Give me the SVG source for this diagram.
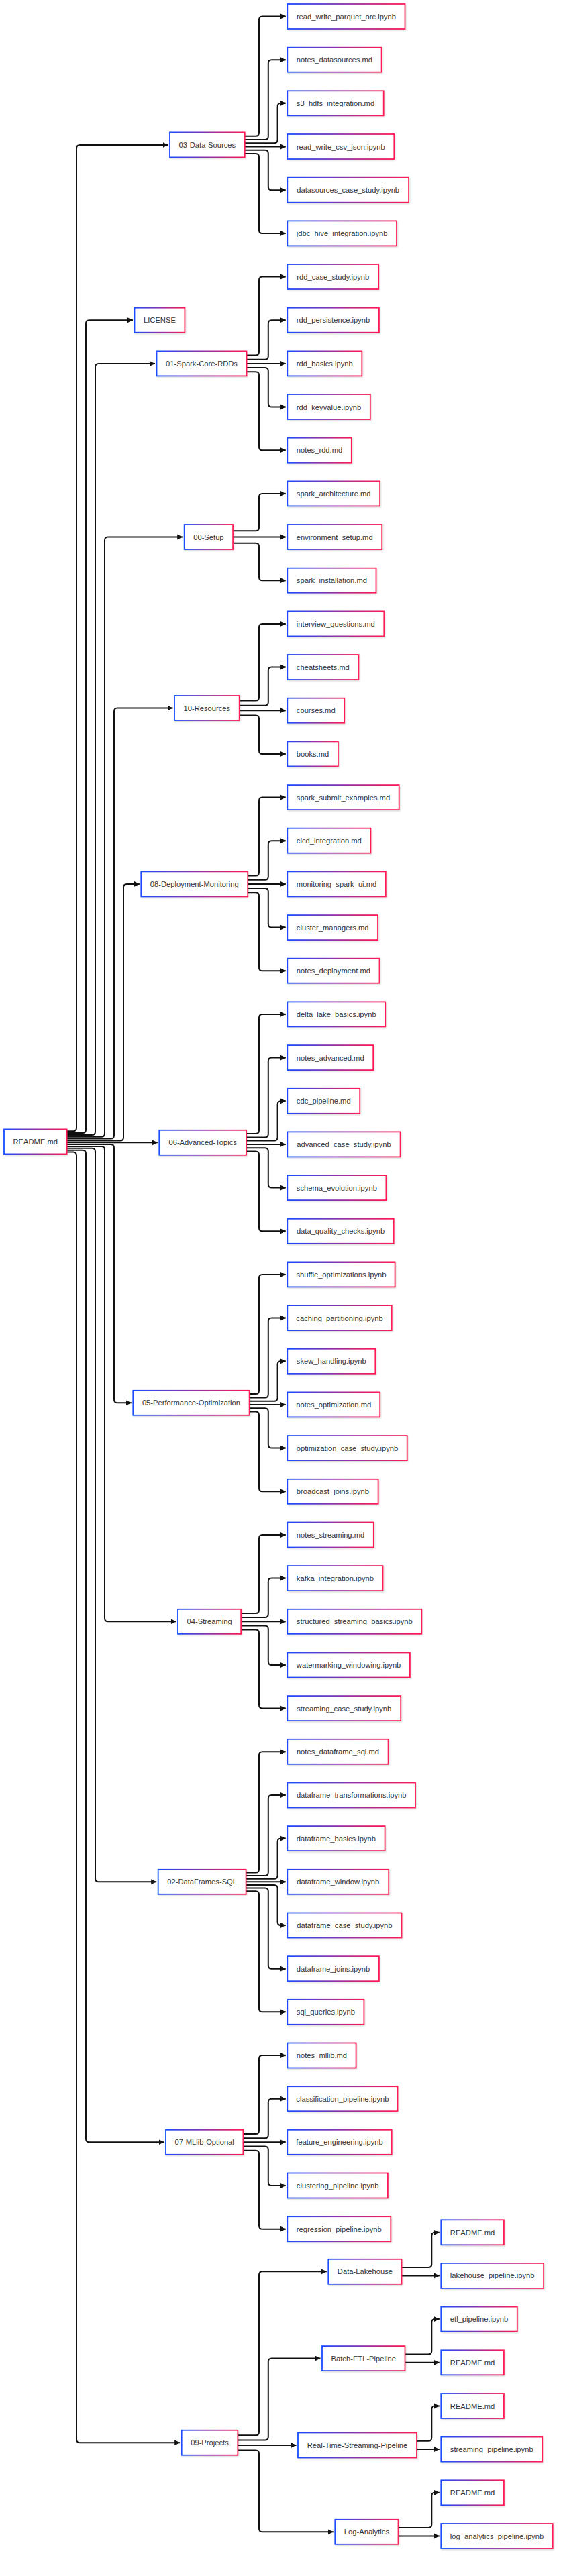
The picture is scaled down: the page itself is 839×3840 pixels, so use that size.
<svg xmlns="http://www.w3.org/2000/svg" width="839" height="3840" viewBox="0 0 839 3840">
<defs>
<linearGradient id="bg" x1="0" y1="0" x2="1" y2="0">
<stop offset="0" stop-color="#1a4cff"/>
<stop offset="1" stop-color="#ff1a55"/>
</linearGradient>
<filter id="sh" x="-10%" y="-20%" width="120%" height="150%">
<feDropShadow dx="1" dy="1.5" stdDeviation="1" flood-color="#000" flood-opacity="0.15"/>
</filter>
<marker id="ah" markerUnits="userSpaceOnUse" markerWidth="10" markerHeight="10" refX="8" refY="5" orient="auto">
<path d="M0,1 L8,5 L0,9 z" fill="#111"/>
</marker>
<style>
.nodes rect{fill:#fff;stroke:url(#bg);stroke-width:1.8;filter:url(#sh)}
.nodes text{font-family:"Liberation Sans",Arial,sans-serif;font-size:11.2px;fill:#333;text-anchor:middle;dominant-baseline:central}
.edges path{fill:none;stroke:#111;stroke-width:2;marker-end:url(#ah)}
</style>
</defs>
<rect width="839" height="3840" fill="#fff"/>
<g id="connectors" class="edges">
<path d="M99.6 1686.2 H109 Q114 1686.2 114 1681.2 V220.9 Q114 215.9 119 215.9 H250.5"/>
<path d="M99.6 1689.1 H123 Q128 1689.1 128 1684.1 V482.2 Q128 477.2 133 477.2 H198"/>
<path d="M99.6 1691.9 H137 Q142 1691.9 142 1686.9 V546.9 Q142 541.9 147 541.9 H231"/>
<path d="M99.6 1694.7 H151 Q156 1694.7 156 1689.7 V805.5 Q156 800.5 161 800.5 H272.2"/>
<path d="M99.6 1697.6 H165 Q170 1697.6 170 1692.6 V1060.5 Q170 1055.5 175 1055.5 H257.5"/>
<path d="M99.6 1700.4 H179 Q184 1700.4 184 1695.4 V1322.9 Q184 1317.9 189 1317.9 H207.8"/>
<path d="M99.6 1703.3 H234.8"/>
<path d="M99.6 1706.1 H165 Q170 1706.1 170 1711.1 V2086.3 Q170 2091.3 175 2091.3 H195.8"/>
<path d="M99.6 1709 H151 Q156 1709 156 1714 V2412.3 Q156 2417.3 161 2417.3 H262.5"/>
<path d="M99.6 1711.8 H137 Q142 1711.8 142 1716.8 V2800.3 Q142 2805.3 147 2805.3 H233.2"/>
<path d="M99.6 1714.7 H123 Q128 1714.7 128 1719.7 V3188.3 Q128 3193.3 133 3193.3 H244.5"/>
<path d="M99.6 1717.5 H109 Q114 1717.5 114 1722.5 V3636.3 Q114 3641.3 119 3641.3 H268.2"/>
<path d="M364.7 202.7 H381 Q386 202.7 386 197.7 V29.5 Q386 24.5 391 24.5 H425.8"/>
<path d="M364.7 207.9 H394.8 Q399.8 207.9 399.8 202.9 V94.2 Q399.8 89.2 404.8 89.2 H425.8"/>
<path d="M364.7 213.2 H408.6 Q413.6 213.2 413.6 208.2 V158.8 Q413.6 153.8 418.6 153.8 H425.8"/>
<path d="M364.7 218.5 H425.8"/>
<path d="M364.7 223.8 H394.8 Q399.8 223.8 399.8 228.8 V278.2 Q399.8 283.2 404.8 283.2 H425.8"/>
<path d="M364.7 229.1 H381 Q386 229.1 386 234.1 V342.9 Q386 347.9 391 347.9 H425.8"/>
<path d="M367.5 529.5 H381 Q386 529.5 386 524.5 V417.5 Q386 412.5 391 412.5 H425.8"/>
<path d="M367.5 535.7 H394.8 Q399.8 535.7 399.8 530.7 V482.2 Q399.8 477.2 404.8 477.2 H425.8"/>
<path d="M367.5 541.9 H425.8"/>
<path d="M367.5 548 H394.8 Q399.8 548 399.8 553 V601.5 Q399.8 606.5 404.8 606.5 H425.8"/>
<path d="M367.5 554.2 H381 Q386 554.2 386 559.2 V666.2 Q386 671.2 391 671.2 H425.8"/>
<path d="M347.1 791.3 H381 Q386 791.3 386 786.3 V740.9 Q386 735.9 391 735.9 H425.8"/>
<path d="M347.1 800.5 H425.8"/>
<path d="M347.1 809.8 H381 Q386 809.8 386 814.8 V860.2 Q386 865.2 391 865.2 H425.8"/>
<path d="M356.7 1044.4 H381 Q386 1044.4 386 1039.4 V934.9 Q386 929.9 391 929.9 H425.8"/>
<path d="M356.7 1051.8 H394.8 Q399.8 1051.8 399.8 1046.8 V999.6 Q399.8 994.6 404.8 994.6 H425.8"/>
<path d="M356.7 1059.2 H425.8"/>
<path d="M356.7 1066.6 H381 Q386 1066.6 386 1071.6 V1118.9 Q386 1123.9 391 1123.9 H425.8"/>
<path d="M369.2 1305.6 H381 Q386 1305.6 386 1300.6 V1193.6 Q386 1188.6 391 1188.6 H425.8"/>
<path d="M369.2 1311.7 H394.8 Q399.8 1311.7 399.8 1306.7 V1258.2 Q399.8 1253.2 404.8 1253.2 H425.8"/>
<path d="M369.2 1317.9 H425.8"/>
<path d="M369.2 1324.1 H394.8 Q399.8 1324.1 399.8 1329.1 V1377.6 Q399.8 1382.6 404.8 1382.6 H425.8"/>
<path d="M369.2 1330.2 H381 Q386 1330.2 386 1335.2 V1442.2 Q386 1447.2 391 1447.2 H425.8"/>
<path d="M367 1690.1 H381 Q386 1690.1 386 1685.1 V1516.9 Q386 1511.9 391 1511.9 H425.8"/>
<path d="M367 1695.4 H394.8 Q399.8 1695.4 399.8 1690.4 V1581.6 Q399.8 1576.6 404.8 1576.6 H425.8"/>
<path d="M367 1700.6 H408.6 Q413.6 1700.6 413.6 1695.6 V1646.3 Q413.6 1641.3 418.6 1641.3 H425.8"/>
<path d="M367 1705.9 H425.8"/>
<path d="M367 1711.2 H394.8 Q399.8 1711.2 399.8 1716.2 V1765.6 Q399.8 1770.6 404.8 1770.6 H425.8"/>
<path d="M367 1716.5 H381 Q386 1716.5 386 1721.5 V1830.3 Q386 1835.3 391 1835.3 H425.8"/>
<path d="M371.6 2078.1 H381 Q386 2078.1 386 2073.1 V1904.9 Q386 1899.9 391 1899.9 H425.8"/>
<path d="M371.6 2083.4 H394.8 Q399.8 2083.4 399.8 2078.4 V1969.6 Q399.8 1964.6 404.8 1964.6 H425.8"/>
<path d="M371.6 2088.7 H408.6 Q413.6 2088.7 413.6 2083.7 V2034.3 Q413.6 2029.3 418.6 2029.3 H425.8"/>
<path d="M371.6 2093.9 H425.8"/>
<path d="M371.6 2099.2 H394.8 Q399.8 2099.2 399.8 2104.2 V2153.6 Q399.8 2158.6 404.8 2158.6 H425.8"/>
<path d="M371.6 2104.5 H381 Q386 2104.5 386 2109.5 V2218.3 Q386 2223.3 391 2223.3 H425.8"/>
<path d="M359.2 2405 H381 Q386 2405 386 2400 V2293 Q386 2288 391 2288 H425.8"/>
<path d="M359.2 2411.1 H394.8 Q399.8 2411.1 399.8 2406.1 V2357.6 Q399.8 2352.6 404.8 2352.6 H425.8"/>
<path d="M359.2 2417.3 H425.8"/>
<path d="M359.2 2423.5 H394.8 Q399.8 2423.5 399.8 2428.5 V2477 Q399.8 2482 404.8 2482 H425.8"/>
<path d="M359.2 2429.6 H381 Q386 2429.6 386 2434.6 V2541.6 Q386 2546.6 391 2546.6 H425.8"/>
<path d="M366.6 2791.4 H381 Q386 2791.4 386 2786.4 V2616.3 Q386 2611.3 391 2611.3 H425.8"/>
<path d="M366.6 2796.1 H394.8 Q399.8 2796.1 399.8 2791.1 V2681 Q399.8 2676 404.8 2676 H425.8"/>
<path d="M366.6 2800.7 H408.6 Q413.6 2800.7 413.6 2795.7 V2745.6 Q413.6 2740.6 418.6 2740.6 H425.8"/>
<path d="M366.6 2805.3 H425.8"/>
<path d="M366.6 2809.9 H408.6 Q413.6 2809.9 413.6 2814.9 V2865 Q413.6 2870 418.6 2870 H425.8"/>
<path d="M366.6 2814.6 H394.8 Q399.8 2814.6 399.8 2819.6 V2929.7 Q399.8 2934.7 404.8 2934.7 H425.8"/>
<path d="M366.6 2819.2 H381 Q386 2819.2 386 2824.2 V2994.3 Q386 2999.3 391 2999.3 H425.8"/>
<path d="M362.4 3181 H381 Q386 3181 386 3176 V3069 Q386 3064 391 3064 H425.8"/>
<path d="M362.4 3187.2 H394.8 Q399.8 3187.2 399.8 3182.2 V3133.7 Q399.8 3128.7 404.8 3128.7 H425.8"/>
<path d="M362.4 3193.3 H425.8"/>
<path d="M362.4 3199.5 H394.8 Q399.8 3199.5 399.8 3204.5 V3253 Q399.8 3258 404.8 3258 H425.8"/>
<path d="M362.4 3205.7 H381 Q386 3205.7 386 3210.7 V3317.7 Q386 3322.7 391 3322.7 H425.8"/>
<path d="M354.3 3630.2 H381 Q386 3630.2 386 3625.2 V3391.3 Q386 3386.3 391 3386.3 H486.8"/>
<path d="M354.3 3637.6 H394.8 Q399.8 3637.6 399.8 3632.6 V3520.6 Q399.8 3515.6 404.8 3515.6 H477.5"/>
<path d="M354.3 3645 H441.5"/>
<path d="M354.3 3652.4 H381 Q386 3652.4 386 3657.4 V3769.3 Q386 3774.3 391 3774.3 H496.8"/>
<path d="M598.5 3380.1 H638.3 Q643.3 3380.1 643.3 3375.1 V3332.8 Q643.3 3327.8 648.3 3327.8 H654.8"/>
<path d="M598.5 3392.4 H654.8"/>
<path d="M603.5 3509.4 H638.3 Q643.3 3509.4 643.3 3504.4 V3462.1 Q643.3 3457.1 648.3 3457.1 H654.8"/>
<path d="M603.5 3521.8 H654.8"/>
<path d="M621 3638.8 H638.3 Q643.3 3638.8 643.3 3633.8 V3591.5 Q643.3 3586.5 648.3 3586.5 H654.8"/>
<path d="M621 3651.1 H654.8"/>
<path d="M593.5 3768.1 H638.3 Q643.3 3768.1 643.3 3763.1 V3720.8 Q643.3 3715.8 648.3 3715.8 H654.8"/>
<path d="M593.5 3780.5 H654.8"/>
</g>
<g class="nodes">
<g id="readme"><rect x="6" y="1683.4" width="93.6" height="37"/><text x="52.8" y="1701.9">README.md</text></g>
<g id="d03"><rect x="253" y="197.4" width="111.7" height="37"/><text x="308.85" y="215.9">03-Data-Sources</text></g>
<g id="license"><rect x="200.5" y="458.7" width="74.9" height="37"/><text x="237.95" y="477.2">LICENSE</text></g>
<g id="d01"><rect x="233.5" y="523.4" width="134" height="37"/><text x="300.5" y="541.9">01-Spark-Core-RDDs</text></g>
<g id="d00"><rect x="274.7" y="782" width="72.4" height="37"/><text x="310.9" y="800.5">00-Setup</text></g>
<g id="d10"><rect x="260" y="1037" width="96.7" height="37"/><text x="308.35" y="1055.5">10-Resources</text></g>
<g id="d08"><rect x="210.3" y="1299.4" width="158.9" height="37"/><text x="289.75" y="1317.9">08-Deployment-Monitoring</text></g>
<g id="d06"><rect x="237.3" y="1684.8" width="129.7" height="37"/><text x="302.15" y="1703.3">06-Advanced-Topics</text></g>
<g id="d05"><rect x="198.3" y="2072.8" width="173.3" height="37"/><text x="284.95" y="2091.3">05-Performance-Optimization</text></g>
<g id="d04"><rect x="265" y="2398.8" width="94.2" height="37"/><text x="312.1" y="2417.3">04-Streaming</text></g>
<g id="d02"><rect x="235.7" y="2786.8" width="130.9" height="37"/><text x="301.15" y="2805.3">02-DataFrames-SQL</text></g>
<g id="d07"><rect x="247" y="3174.8" width="115.4" height="37"/><text x="304.7" y="3193.3">07-MLlib-Optional</text></g>
<g id="d09"><rect x="270.7" y="3622.75" width="83.6" height="37"/><text x="312.5" y="3641.25">09-Projects</text></g>
<g id="f0"><rect x="428.3" y="6" width="175.2" height="37"/><text x="515.9" y="24.5">read_write_parquet_orc.ipynb</text></g>
<g id="f1"><rect x="428.3" y="70.7" width="140.3" height="37"/><text x="498.45" y="89.2">notes_datasources.md</text></g>
<g id="f2"><rect x="428.3" y="135.3" width="143.4" height="37"/><text x="500" y="153.8">s3_hdfs_integration.md</text></g>
<g id="f3"><rect x="428.3" y="200" width="159" height="37"/><text x="507.8" y="218.5">read_write_csv_json.ipynb</text></g>
<g id="f4"><rect x="428.3" y="264.7" width="180.8" height="37"/><text x="518.7" y="283.2">datasources_case_study.ipynb</text></g>
<g id="f5"><rect x="428.3" y="329.4" width="162.7" height="37"/><text x="509.65" y="347.9">jdbc_hive_integration.ipynb</text></g>
<g id="f6"><rect x="428.3" y="394" width="135.9" height="37"/><text x="496.25" y="412.5">rdd_case_study.ipynb</text></g>
<g id="f7"><rect x="428.3" y="458.7" width="136.6" height="37"/><text x="496.6" y="477.2">rdd_persistence.ipynb</text></g>
<g id="f8"><rect x="428.3" y="523.4" width="111" height="37"/><text x="483.8" y="541.9">rdd_basics.ipynb</text></g>
<g id="f9"><rect x="428.3" y="588" width="123.5" height="37"/><text x="490.05" y="606.5">rdd_keyvalue.ipynb</text></g>
<g id="f10"><rect x="428.3" y="652.7" width="95.5" height="37"/><text x="476.05" y="671.2">notes_rdd.md</text></g>
<g id="f11"><rect x="428.3" y="717.4" width="137.8" height="37"/><text x="497.2" y="735.9">spark_architecture.md</text></g>
<g id="f12"><rect x="428.3" y="782" width="140.9" height="37"/><text x="498.75" y="800.5">environment_setup.md</text></g>
<g id="f13"><rect x="428.3" y="846.7" width="132.2" height="37"/><text x="494.4" y="865.2">spark_installation.md</text></g>
<g id="f14"><rect x="428.3" y="911.4" width="144" height="37"/><text x="500.3" y="929.9">interview_questions.md</text></g>
<g id="f15"><rect x="428.3" y="976" width="106.1" height="37"/><text x="481.35" y="994.5">cheatsheets.md</text></g>
<g id="f16"><rect x="428.3" y="1040.7" width="84.9" height="37"/><text x="470.75" y="1059.2">courses.md</text></g>
<g id="f17"><rect x="428.3" y="1105.4" width="75.6" height="37"/><text x="466.1" y="1123.9">books.md</text></g>
<g id="f18"><rect x="428.3" y="1170.1" width="166.4" height="37"/><text x="511.5" y="1188.6">spark_submit_examples.md</text></g>
<g id="f19"><rect x="428.3" y="1234.7" width="124.1" height="37"/><text x="490.35" y="1253.2">cicd_integration.md</text></g>
<g id="f20"><rect x="428.3" y="1299.4" width="146.5" height="37"/><text x="501.55" y="1317.9">monitoring_spark_ui.md</text></g>
<g id="f21"><rect x="428.3" y="1364.1" width="134.7" height="37"/><text x="495.65" y="1382.6">cluster_managers.md</text></g>
<g id="f22"><rect x="428.3" y="1428.7" width="137.2" height="37"/><text x="496.9" y="1447.2">notes_deployment.md</text></g>
<g id="f23"><rect x="428.3" y="1493.4" width="145.9" height="37"/><text x="501.25" y="1511.9">delta_lake_basics.ipynb</text></g>
<g id="f24"><rect x="428.3" y="1558.1" width="127.9" height="37"/><text x="492.25" y="1576.6">notes_advanced.md</text></g>
<g id="f25"><rect x="428.3" y="1622.8" width="107.9" height="37"/><text x="482.25" y="1641.3">cdc_pipeline.md</text></g>
<g id="f26"><rect x="428.3" y="1687.4" width="168.3" height="37"/><text x="512.45" y="1705.9">advanced_case_study.ipynb</text></g>
<g id="f27"><rect x="428.3" y="1752.1" width="147.1" height="37"/><text x="501.85" y="1770.6">schema_evolution.ipynb</text></g>
<g id="f28"><rect x="428.3" y="1816.8" width="158.4" height="37"/><text x="507.5" y="1835.3">data_quality_checks.ipynb</text></g>
<g id="f29"><rect x="428.3" y="1881.4" width="160.3" height="37"/><text x="508.45" y="1899.9">shuffle_optimizations.ipynb</text></g>
<g id="f30"><rect x="428.3" y="1946.1" width="155.4" height="37"/><text x="506" y="1964.6">caching_partitioning.ipynb</text></g>
<g id="f31"><rect x="428.3" y="2010.8" width="131" height="37"/><text x="493.8" y="2029.3">skew_handling.ipynb</text></g>
<g id="f32"><rect x="428.3" y="2075.4" width="137.9" height="37"/><text x="497.25" y="2093.9">notes_optimization.md</text></g>
<g id="f33"><rect x="428.3" y="2140.1" width="178.4" height="37"/><text x="517.5" y="2158.6">optimization_case_study.ipynb</text></g>
<g id="f34"><rect x="428.3" y="2204.8" width="135.3" height="37"/><text x="495.95" y="2223.3">broadcast_joins.ipynb</text></g>
<g id="f35"><rect x="428.3" y="2269.5" width="128.5" height="37"/><text x="492.55" y="2288">notes_streaming.md</text></g>
<g id="f36"><rect x="428.3" y="2334.1" width="142.2" height="37"/><text x="499.4" y="2352.6">kafka_integration.ipynb</text></g>
<g id="f37"><rect x="428.3" y="2398.8" width="200" height="37"/><text x="528.3" y="2417.3">structured_streaming_basics.ipynb</text></g>
<g id="f38"><rect x="428.3" y="2463.5" width="182.6" height="37"/><text x="519.6" y="2482">watermarking_windowing.ipynb</text></g>
<g id="f39"><rect x="428.3" y="2528.1" width="168.9" height="37"/><text x="512.75" y="2546.6">streaming_case_study.ipynb</text></g>
<g id="f40"><rect x="428.3" y="2592.8" width="150.3" height="37"/><text x="503.45" y="2611.3">notes_dataframe_sql.md</text></g>
<g id="f41"><rect x="428.3" y="2657.5" width="190.7" height="37"/><text x="523.65" y="2676">dataframe_transformations.ipynb</text></g>
<g id="f42"><rect x="428.3" y="2722.1" width="145.3" height="37"/><text x="500.95" y="2740.6">dataframe_basics.ipynb</text></g>
<g id="f43"><rect x="428.3" y="2786.8" width="150.9" height="37"/><text x="503.75" y="2805.3">dataframe_window.ipynb</text></g>
<g id="f44"><rect x="428.3" y="2851.5" width="170.2" height="37"/><text x="513.4" y="2870">dataframe_case_study.ipynb</text></g>
<g id="f45"><rect x="428.3" y="2916.2" width="136.6" height="37"/><text x="496.6" y="2934.7">dataframe_joins.ipynb</text></g>
<g id="f46"><rect x="428.3" y="2980.8" width="114.1" height="37"/><text x="485.35" y="2999.3">sql_queries.ipynb</text></g>
<g id="f47"><rect x="428.3" y="3045.5" width="102.3" height="37"/><text x="479.45" y="3064">notes_mllib.md</text></g>
<g id="f48"><rect x="428.3" y="3110.2" width="164.2" height="37"/><text x="510.4" y="3128.7">classification_pipeline.ipynb</text></g>
<g id="f49"><rect x="428.3" y="3174.8" width="155.4" height="37"/><text x="506" y="3193.3">feature_engineering.ipynb</text></g>
<g id="f50"><rect x="428.3" y="3239.5" width="149.6" height="37"/><text x="503.1" y="3258">clustering_pipeline.ipynb</text></g>
<g id="f51"><rect x="428.3" y="3304.2" width="154" height="37"/><text x="505.3" y="3322.7">regression_pipeline.ipynb</text></g>
<g id="p-dl"><rect x="489.3" y="3367.8" width="109.2" height="37"/><text x="543.9" y="3386.3">Data-Lakehouse</text></g>
<g id="p-be"><rect x="480" y="3497.1" width="123.5" height="37"/><text x="541.75" y="3515.6">Batch-ETL-Pipeline</text></g>
<g id="p-rt"><rect x="444" y="3626.5" width="177" height="37"/><text x="532.5" y="3645">Real-Time-Streaming-Pipeline</text></g>
<g id="p-la"><rect x="499.3" y="3755.8" width="94.2" height="37"/><text x="546.4" y="3774.3">Log-Analytics</text></g>
<g id="dl-readme"><rect x="657.3" y="3309.3" width="93.6" height="37"/><text x="704.1" y="3327.8">README.md</text></g>
<g id="dl-pipe"><rect x="657.3" y="3373.9" width="152.8" height="37"/><text x="733.7" y="3392.4">lakehouse_pipeline.ipynb</text></g>
<g id="be-pipe"><rect x="657.3" y="3438.6" width="113.5" height="37"/><text x="714.05" y="3457.1">etl_pipeline.ipynb</text></g>
<g id="be-readme"><rect x="657.3" y="3503.3" width="93.6" height="37"/><text x="704.1" y="3521.8">README.md</text></g>
<g id="rt-readme"><rect x="657.3" y="3568" width="93.6" height="37"/><text x="704.1" y="3586.5">README.md</text></g>
<g id="rt-pipe"><rect x="657.3" y="3632.6" width="150.9" height="37"/><text x="732.75" y="3651.1">streaming_pipeline.ipynb</text></g>
<g id="la-readme"><rect x="657.3" y="3697.3" width="93.6" height="37"/><text x="704.1" y="3715.8">README.md</text></g>
<g id="la-pipe"><rect x="657.3" y="3762" width="166.4" height="37"/><text x="740.5" y="3780.5">log_analytics_pipeline.ipynb</text></g>
</g>
</svg>
